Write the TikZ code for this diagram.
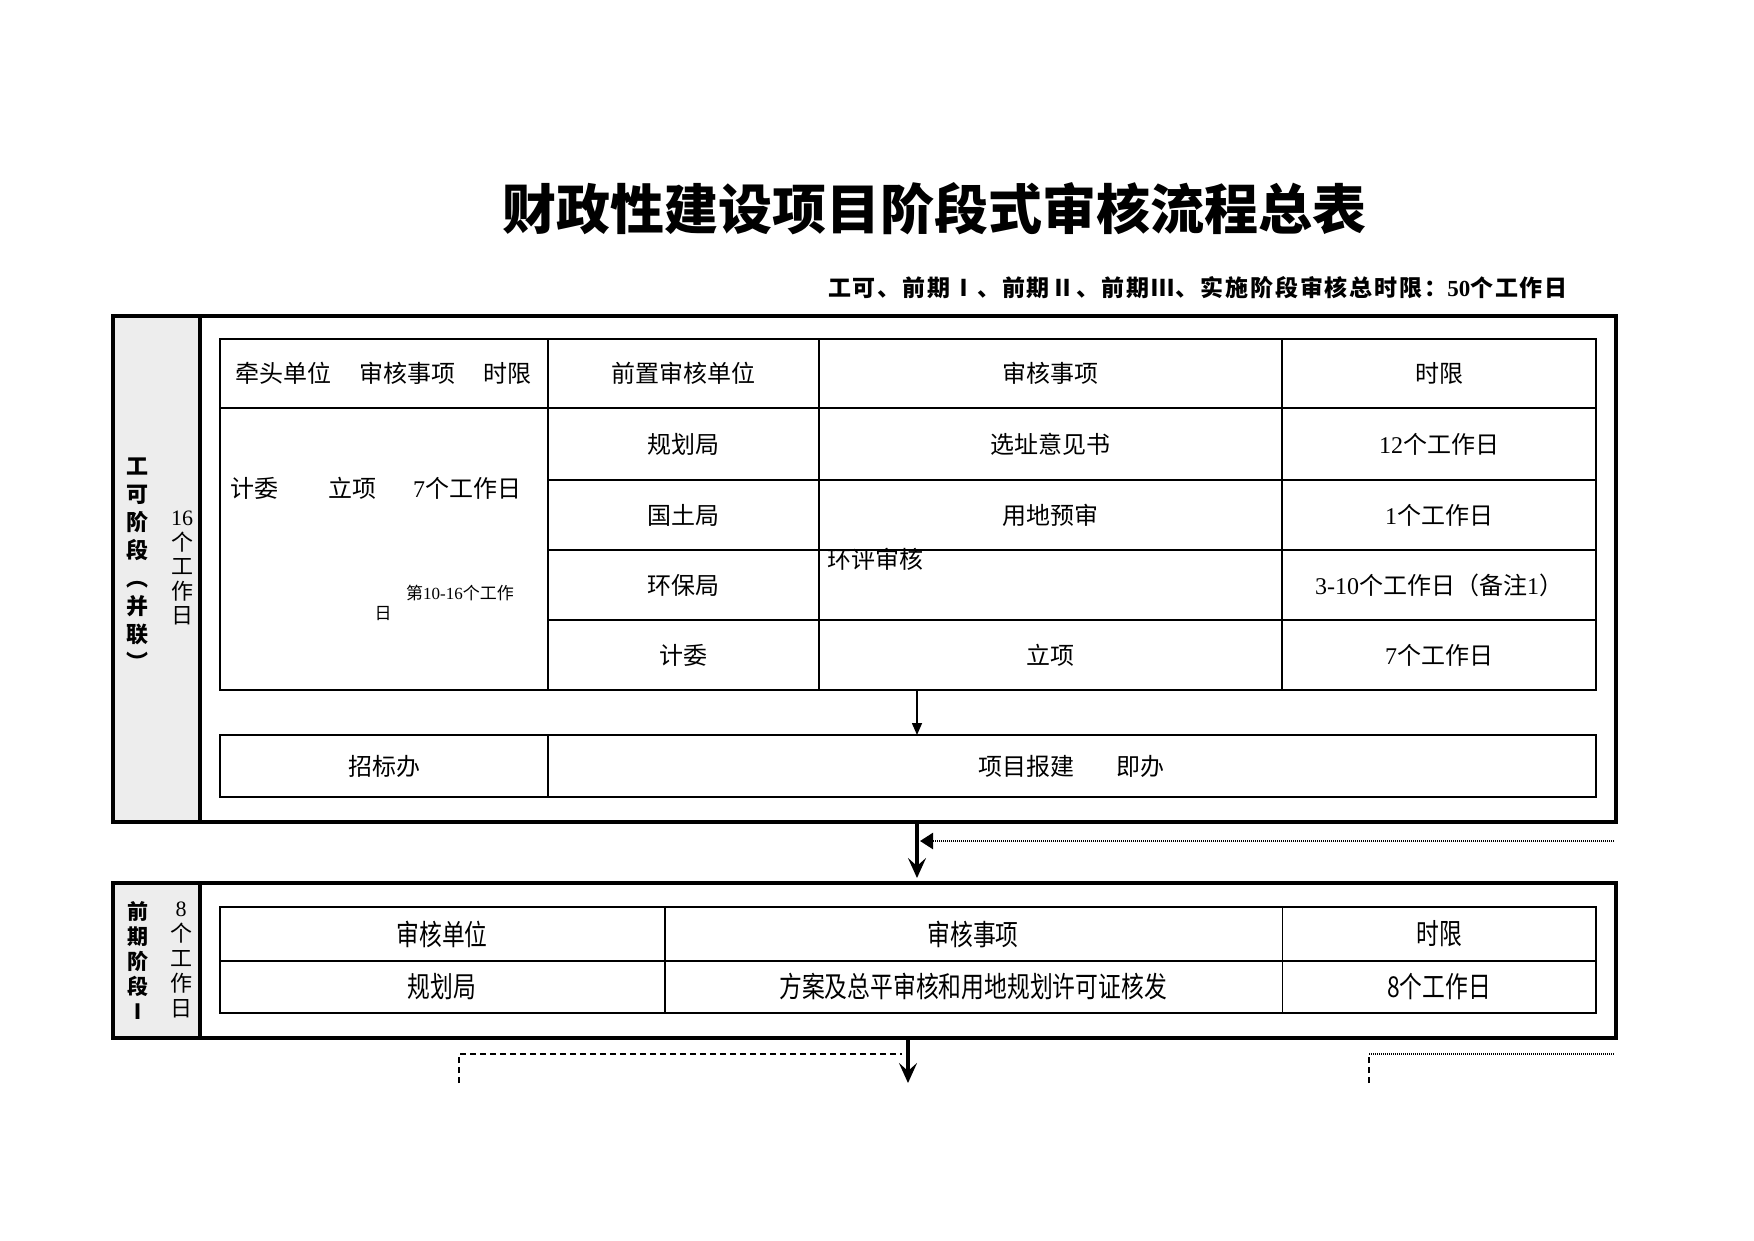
\documentclass[tikz,border=0pt]{standalone}
\usepackage{fontspec}
\setmainfont{Noto Sans CJK SC}
\newfontfamily\serifnum{Liberation Serif}
\newfontfamily\subfont{Noto Sans CJK SC}[LetterSpace=8]
\usetikzlibrary{arrows.meta}
\newcommand\nm[1]{{\serifnum #1}}
\begin{document}
\begin{tikzpicture}[x=1pt,y=-1pt,
  side/.style={draw, fill=black!7, line width=4pt, inner sep=0, outer sep=0, anchor=north west},
  frame/.style={draw, line width=4pt, inner sep=0, outer sep=0, anchor=north west},
  tbl/.style={draw, line width=2pt, inner sep=0, outer sep=0, anchor=north west},
  tblthin/.style={draw, line width=1.6pt, inner sep=0, outer sep=0, anchor=north west},
  txt/.style={inner sep=0, font=\fontsize{24}{28}\selectfont},
  smalltxt/.style={inner sep=0, font=\fontsize{17}{20}\selectfont},
  vbold/.style={inner sep=0, align=center, font=\bfseries\fontsize{22}{28}\selectfont},
  vnorm/.style={inner sep=0, align=center, font=\fontsize{22}{24.5}\selectfont},
  bigarrow/.style={-{Stealth[length=20pt,width=18pt,inset=8pt]}, line width=4.5pt},
  thinarrow/.style={-{Triangle[length=12pt,width=10pt]}, line width=1.5pt},
  dotline/.style={dash pattern=on 1.2pt off 0.8pt, line width=2.4pt},
  dashline/.style={dash pattern=on 6pt off 4pt, line width=1.5pt}
]
\useasboundingbox (0,0) rectangle (1754,1240);

% title
\node[inner sep=0, font=\bfseries\fontsize{54}{60}\selectfont] (title) at (934,209) {财政性建设项目阶段式审核流程总表};
\node[inner sep=0, anchor=east, font=\subfont\bfseries\fontsize{23}{26}\selectfont] (sub) at (1568,288)
  {工可、前期Ⅰ、前期Ⅱ、前期Ⅲ、实施阶段审核总时限：\nm{50}个工作日};

% stage 1 frame
\node[side, minimum width=87, minimum height=506] (side1) at (113,316) {};
\node[frame, minimum width=1503, minimum height=506] (box1) at (113,316) {};
\node[vbold] (v1) at (137.6,564) {工\\可\\阶\\段\\︵\\并\\联\\︶};
\node[vnorm] (v2) at (182,568) {\nm{16}\\个\\工\\作\\日};

% table 1
\node[tbl, minimum width=1376, minimum height=351] (tab1) at (220,339) {};
\draw[line width=2pt] (548,339) -- (548,690);
\draw[line width=2pt] (819,339) -- (819,690);
\draw[line width=1.6pt] (1282,339) -- (1282,690);
\draw[line width=2pt] (220,408) -- (1596,408);
\draw[line width=1.6pt] (548,480) -- (1596,480);
\draw[line width=2pt] (548,550) -- (1596,550);
\draw[line width=2pt] (548,620) -- (1596,620);

\node[txt, anchor=west] (h1) at (235,373.5) {牵头单位\hspace{28pt}审核事项\hspace{28pt}时限};
\node[txt] (h2) at (683.5,373.5) {前置审核单位};
\node[txt] (h3) at (1050.5,373.5) {审核事项};
\node[txt] (h4) at (1439,373.5) {时限};

\node[txt] (r1a) at (683.5,444) {规划局};
\node[txt] (r1b) at (1050.5,444) {选址意见书};
\node[txt] (r1c) at (1439,444) {\nm{12}个工作日};
\node[txt] (r2a) at (683.5,515) {国土局};
\node[txt] (r2b) at (1050.5,515) {用地预审};
\node[txt] (r2c) at (1439,515) {\nm{1}个工作日};
\node[txt] (r3a) at (683.5,585) {环保局};
\node[txt, anchor=west] (r3b) at (827,559) {环评审核};
\node[txt] (r3c) at (1439,585) {\nm{3-10}个工作日（备注\nm{1}）};
\node[txt] (r4a) at (683.5,655) {计委};
\node[txt] (r4b) at (1050.5,655) {立项};
\node[txt] (r4c) at (1439,655) {\nm{7}个工作日};

\node[txt, anchor=west] (l1) at (230,488) {计委\hspace{50pt}立项\hspace{37pt}\nm{7}个工作日};
\node[smalltxt, anchor=west] (l2) at (406,593) {第\nm{10-16}个工作};
\node[smalltxt] (l3) at (383,614) {日};

% 招标办 box
\node[tblthin, minimum width=1376, minimum height=62] (zb) at (220,735) {};
\draw[line width=1.6pt] (548,735) -- (548,797);
\node[txt] (zb1) at (384,766) {招标办};
\node[txt] (zb2) at (1071,766) {项目报建\hspace{42pt}即办};

% arrows between
\coordinate (cx) at (917,0);
\draw[thinarrow] (tab1.south -| cx) -- (zb.north -| cx);
\coordinate (m1) at (917,878);
\draw[bigarrow] (box1.south -| cx) -- (m1);
\coordinate (d1) at (1614,841);
\coordinate (d1e) at (920,841);
\draw[dotline, -{Triangle[length=13pt,width=16pt]}] (d1) -- (d1e);

% stage 2 frame
\node[side, minimum width=87, minimum height=155] (side2) at (113,883) {};
\node[frame, minimum width=1503, minimum height=155] (box2) at (113,883) {};
\node[vbold, font=\bfseries\fontsize{21}{25}\selectfont] (v3) at (137.6,960) {前\\期\\阶\\段\\Ⅰ};
\node[vnorm, font=\fontsize{22}{25}\selectfont] (v4) at (181,960) {\nm{8}\\个\\工\\作\\日};

\node[tblthin, minimum width=1376, minimum height=106] (tab2) at (220,907) {};
\draw[line width=1.6pt] (220,961) -- (1596,961);
\draw[line width=1.6pt] (665,907) -- (665,1013);
\draw[line width=1pt] (1282,907) -- (1282,1013);
\node[txt] (t2h1) at (442,934) {\scalebox{0.95}[1.2]{审核单位}};
\node[txt] (t2h2) at (973,934) {\scalebox{0.95}[1.2]{审核事项}};
\node[txt] (t2h3) at (1439,934) {\scalebox{0.95}[1.2]{时限}};
\node[txt] (t2r1) at (442,987) {\scalebox{0.95}[1.2]{规划局}};
\node[txt] (t2r2) at (973,987) {\scalebox{0.95}[1.2]{方案及总平审核和用地规划许可证核发}};
\node[txt] (t2r3) at (1439,987) {\scalebox{0.95}[1.2]{8个工作日}};

% bottom connectors
\coordinate (cx2) at (908,0);
\coordinate (m2) at (908,1083);
\draw[bigarrow] (box2.south -| cx2) -- (m2);
\coordinate (L1) at (459,1083);
\coordinate (L2) at (459,1054);
\coordinate (L3) at (902,1054);
\draw[dashline] (L1) -- (L2) -- (L3);
\coordinate (R1) at (1369,1083);
\coordinate (R2) at (1369,1054);
\coordinate (R3) at (1614,1054);
\draw[dashline] (R1) -- (R2);
\draw[dotline, line width=1.5pt] (R2) -- (R3);
\end{tikzpicture}
\end{document}
